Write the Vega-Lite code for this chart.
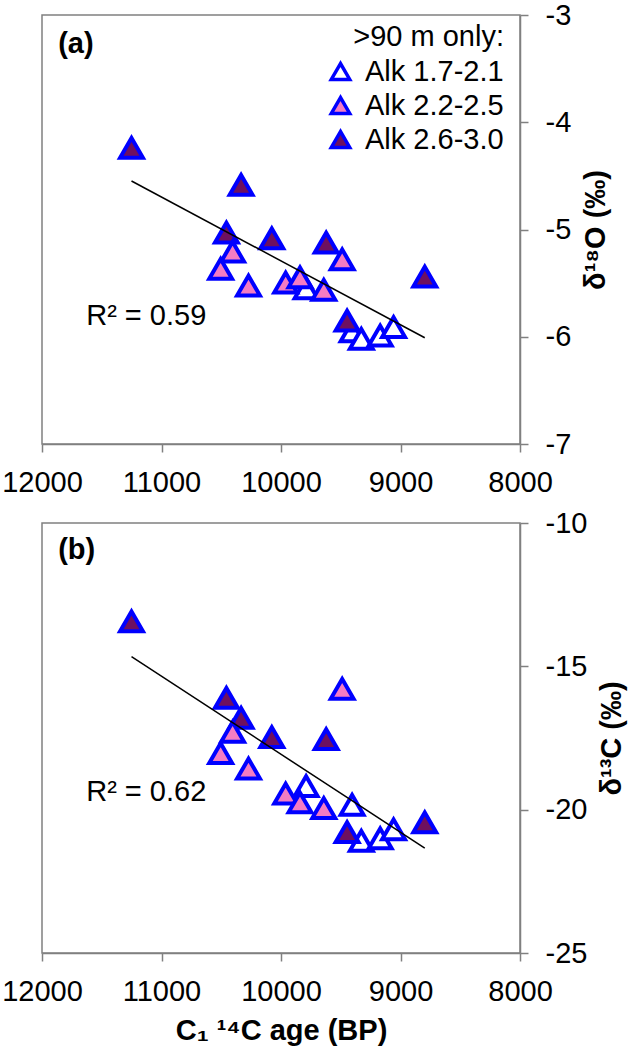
{
  "$schema": "https://vega.github.io/schema/vega-lite/v6.json",
  "padding": {"left": 0, "top": 0, "right": 5, "bottom": 5},
  "background": "white",
  "config": {
    "font": "Liberation Sans",
    "view": {"stroke": "#808080", "strokeWidth": 1.5},
    "axis": {
      "grid": false,
      "labelFontSize": 29,
      "labelColor": "#000000",
      "labelFlush": false,
      "labelOverlap": false,
      "domainColor": "#808080",
      "domainWidth": 1.5,
      "tickColor": "#808080",
      "tickWidth": 1.5,
      "tickSize": 8,
      "titleFontSize": 29,
      "titleFontWeight": "bold",
      "titleColor": "#000000"
    }
  },
  "datasets": {
    "pts": [
      {"age": 11251, "d18O": -4.24, "d13C": -13.43, "alk": "Alk 2.6-3.0"},
      {"age": 10334, "d18O": -4.585, "d13C": -16.80, "alk": "Alk 2.6-3.0"},
      {"age": 10457, "d18O": -5.03, "d13C": -16.10, "alk": "Alk 2.6-3.0"},
      {"age": 10077, "d18O": -5.082, "d13C": -17.47, "alk": "Alk 2.6-3.0"},
      {"age": 9622, "d18O": -5.123, "d13C": -17.54, "alk": "Alk 2.6-3.0"},
      {"age": 8797, "d18O": -5.44, "d13C": -20.44, "alk": "Alk 2.6-3.0"},
      {"age": 10405, "d18O": -5.207, "d13C": -17.29, "alk": "Alk 2.2-2.5"},
      {"age": 10505, "d18O": -5.368, "d13C": -18.03, "alk": "Alk 2.2-2.5"},
      {"age": 10272, "d18O": -5.524, "d13C": -18.57, "alk": "Alk 2.2-2.5"},
      {"age": 9488, "d18O": -5.278, "d13C": -15.79, "alk": "Alk 2.2-2.5"},
      {"age": 9790, "d18O": -5.549, "d13C": -19.18, "alk": "Alk 1.7-2.1"},
      {"age": 9961, "d18O": -5.496, "d13C": -19.44, "alk": "Alk 2.2-2.5"},
      {"age": 9841, "d18O": -5.446, "d13C": -19.75, "alk": "Alk 2.2-2.5"},
      {"age": 9642, "d18O": -5.564, "d13C": -19.95, "alk": "Alk 2.2-2.5"},
      {"age": 9405, "d18O": -5.95, "d13C": -19.83, "alk": "Alk 1.7-2.1"},
      {"age": 9328, "d18O": -6.02, "d13C": -21.09, "alk": "Alk 1.7-2.1"},
      {"age": 9170, "d18O": -5.99, "d13C": -21.0, "alk": "Alk 1.7-2.1"},
      {"age": 9058, "d18O": -5.91, "d13C": -20.69, "alk": "Alk 1.7-2.1"},
      {"age": 9447, "d18O": -5.85, "d13C": -20.78, "alk": "Alk 2.6-3.0"}
    ]
  },
  "resolve": {"scale": {"y": "independent"}, "legend": {"fill": "independent"}},
  "spacing": 10,
  "vconcat": [
    {
      "width": 478,
      "height": 429,
      "layer": [
        {
          "data": {"name": "pts"},
          "mark": {"type": "point", "shape": "triangle-up", "filled": true, "size": 520, "stroke": "#0000FF", "strokeWidth": 4, "opacity": 1},
          "encoding": {
            "x": {"field": "age", "type": "quantitative", "scale": {"domain": [8000, 12000], "reverse": true, "nice": false},
              "axis": {"values": [12000, 11000, 10000, 9000, 8000], "format": "d", "title": null, "labelPadding": 16}},
            "y": {"field": "d18O", "type": "quantitative", "scale": {"domain": [-7, -3], "nice": false, "zero": false},
              "axis": {"orient": "right", "values": [-3, -4, -5, -6, -7], "labelExpr": "toString(datum.value)", "title": "δ¹⁸O (‰)", "titleAngle": 270, "titleBaseline": "top", "titlePadding": 11, "labelPadding": 17}},
            "fill": {"field": "alk", "type": "nominal",
              "scale": {"domain": ["Alk 1.7-2.1", "Alk 2.2-2.5", "Alk 2.6-3.0"], "range": ["#FFFFFF", "#F47CC3", "#6E1060"]},
              "legend": {"orient": "none", "legendX": 284, "legendY": 8, "title": ">90 m only:", "titleFontSize": 29, "titleFontWeight": "normal", "titleColor": "#000000", "titleAnchor": "end", "titlePadding": 5,
                "labelFontSize": 29, "labelColor": "#000000", "labelOffset": 10, "symbolType": "triangle-up", "symbolSize": 340,
                "symbolStrokeColor": "#0000FF", "symbolStrokeWidth": 3.5, "symbolOpacity": 1, "rowPadding": 3, "padding": 0}}
          }
        },
        {
          "data": {"values": [{"age": 11251, "v": -4.548}, {"age": 8797, "v": -6.009}]},
          "mark": {"type": "line", "color": "#000000", "strokeWidth": 1.5},
          "encoding": {"x": {"field": "age", "type": "quantitative"}, "y": {"field": "v", "type": "quantitative"}}
        },
        {
          "data": {"values": [{"age": 11865, "v": -3.27, "t": "(a)"}]},
          "mark": {"type": "text", "fontSize": 29, "fontWeight": "bold", "align": "left", "baseline": "middle", "color": "#000000"},
          "encoding": {"x": {"field": "age", "type": "quantitative"}, "y": {"field": "v", "type": "quantitative"}, "text": {"field": "t"}}
        },
        {
          "data": {"values": [{"age": 11630, "v": -5.81, "t": "R² = 0.59"}]},
          "mark": {"type": "text", "fontSize": 29, "align": "left", "baseline": "middle", "color": "#000000"},
          "encoding": {"x": {"field": "age", "type": "quantitative"}, "y": {"field": "v", "type": "quantitative"}, "text": {"field": "t"}}
        }
      ]
    },
    {
      "width": 478,
      "height": 430,
      "layer": [
        {
          "data": {"name": "pts"},
          "mark": {"type": "point", "shape": "triangle-up", "filled": true, "size": 520, "stroke": "#0000FF", "strokeWidth": 4, "opacity": 1},
          "encoding": {
            "x": {"field": "age", "type": "quantitative", "scale": {"domain": [8000, 12000], "reverse": true, "nice": false},
              "axis": {"values": [12000, 11000, 10000, 9000, 8000], "format": "d", "title": "C₁ ¹⁴C age (BP)", "labelPadding": 16, "titlePadding": 10}},
            "y": {"field": "d13C", "type": "quantitative", "scale": {"domain": [-25, -10], "nice": false, "zero": false},
              "axis": {"orient": "right", "values": [-10, -15, -20, -25], "labelExpr": "toString(datum.value)", "title": "δ¹³C (‰)", "titleAngle": 270, "titleBaseline": "top", "titlePadding": 11, "labelPadding": 17}},
            "fill": {"field": "alk", "type": "nominal",
              "scale": {"domain": ["Alk 1.7-2.1", "Alk 2.2-2.5", "Alk 2.6-3.0"], "range": ["#FFFFFF", "#F47CC3", "#6E1060"]},
              "legend": null}
          }
        },
        {
          "data": {"values": [{"age": 11251, "v": -14.665}, {"age": 8797, "v": -21.34}]},
          "mark": {"type": "line", "color": "#000000", "strokeWidth": 1.5},
          "encoding": {"x": {"field": "age", "type": "quantitative"}, "y": {"field": "v", "type": "quantitative"}}
        },
        {
          "data": {"values": [{"age": 11865, "v": -10.95, "t": "(b)"}]},
          "mark": {"type": "text", "fontSize": 29, "fontWeight": "bold", "align": "left", "baseline": "middle", "color": "#000000"},
          "encoding": {"x": {"field": "age", "type": "quantitative"}, "y": {"field": "v", "type": "quantitative"}, "text": {"field": "t"}}
        },
        {
          "data": {"values": [{"age": 11630, "v": -19.40, "t": "R² = 0.62"}]},
          "mark": {"type": "text", "fontSize": 29, "align": "left", "baseline": "middle", "color": "#000000"},
          "encoding": {"x": {"field": "age", "type": "quantitative"}, "y": {"field": "v", "type": "quantitative"}, "text": {"field": "t"}}
        }
      ]
    }
  ]
}
